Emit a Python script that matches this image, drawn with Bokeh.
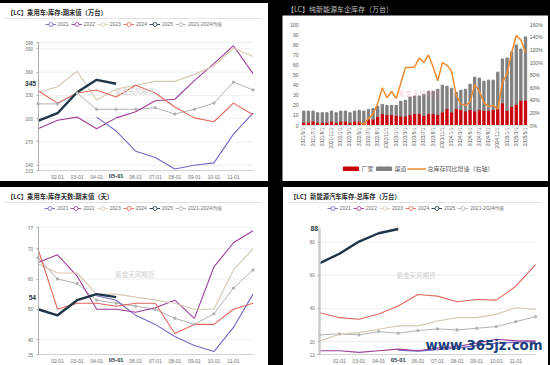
import math
import numpy as np
from bokeh.plotting import figure
from bokeh.models import (Range1d, FixedTicker, LinearAxis, Legend, LegendItem,
                          Label, Div, ColumnDataSource)
from bokeh.layouts import column, row
from bokeh.embed import file_html
from bokeh.resources import INLINE

nan = np.nan

# ---------------- shared categories ----------------
months = [1, 2, 3, 4, 5, 6, 7, 8, 9, 10, 11, 12]
month_labels = ["01-01", "02-01", "03-01", "04-01", "05-01", "06-01",
                "07-01", "08-01", "09-01", "10-01", "11-01", "12-01"]
series_names = ["2021", "2022", "2023", "2024", "2025", "2021-2024均值"]
watermark = "紫金天风期货"

# ---------------- panel 1: 乘用车 库存 期末值 (万台) ----------------
p1_title = "【LC】乘用车:库存:期末值（万台）"
p1_2021 = [nan, nan, nan, 302, 284, 258, 250, 235, 240, 243, 280, 307]
p1_2022 = [287, 298, 302, 287, 301, 309, 323, 325, 349, 371, 394, 358]
p1_2023 = [334, 341, 361, 324, 338, 343, 348, 348, 357, 368, 391, 380]
p1_2024 = [336, 320, 333, 337, 328, 343, 333, 315, 301, 296, 320, 305]
p1_2025 = [297, 307, 334, 350, 345]
p1_avg = [319, 319, 333, 312, 312, 312, 314, 306, 312, 320, 347, 337]
p1_yticks = [233, 240, 270, 300, 330, 360, 390, 398]

# ---------------- panel 3: 乘用车 库存天数 (天) ----------------
p3_title = "【LC】乘用车:库存天数:期末值（天）"
p3_2021 = [nan, nan, nan, 54.5, 53, 48, 45, 41, 38, 36, 44, 55]
p3_2022 = [65.5, 68, 61, 50, 50, 49, 50.5, 53, 47, 64, 72, 76]
p3_2023 = [65, 62, 62, 55, 55, 54, 53, 52, 50, 50, 63, 70]
p3_2024 = [70, 50, 52, 52, 51, 52, 52, 42, 45, 45, 50, 52]
p3_2025 = [50, 48, 53, 55, 54]
p3_avg = [67, 60, 58.5, 53, 52, 51, 50, 47, 45, 48.5, 57, 63]
p3_yticks = [35, 40, 50, 60, 70, 77]

# ---------------- panel 4: 新能源汽车库存-总库存 (万台) ----------------
p4_title = "【LC】新能源汽车库存-总库存（万台）"
p4_2021 = [nan, nan, nan, nan, 14.8, 14.2, 15, 16, 17.5, 19, 19.5, 20]
p4_2022 = [14.4, 14.4, 13.4, 14.4, 15.4, 14.4, 16, 17, 19, 21.4, 20.4, 20.4]
p4_2023 = [20.4, 24.4, 25.4, 27.4, 29.4, 29.4, 32.4, 34.4, 34.4, 36.4, 40.4, 39.4]
p4_2024 = [37.4, 34.4, 33.4, 36.6, 41.4, 48.4, 47.4, 44, 45.4, 45, 53.4, 66.4]
p4_2025 = [67.4, 73, 80.4, 85.4, 88]
p4_avg = [24, 24.6, 24, 26, 25, 26.6, 27.6, 27, 28, 29, 32, 35]
p4_yticks = [12, 20, 40, 60, 80]

# ---------------- panel 2: 纯新能源车企库存 (万台) ----------------
p2_title = "【LC】纯新能源车企库存（万台）"
nev_months = ["2021/5/1", "2021/6/1", "2021/7/1", "2021/8/1", "2021/9/1", "2021/10/1",
              "2021/11/1", "2021/12/1",
              "2022/1/1", "2022/2/1", "2022/3/1", "2022/4/1", "2022/5/1", "2022/6/1",
              "2022/7/1", "2022/8/1", "2022/9/1", "2022/10/1", "2022/11/1", "2022/12/1",
              "2023/1/1", "2023/2/1", "2023/3/1", "2023/4/1", "2023/5/1", "2023/6/1",
              "2023/7/1", "2023/8/1", "2023/9/1", "2023/10/1", "2023/11/1", "2023/12/1",
              "2024/1/1", "2024/2/1", "2024/3/1", "2024/4/1", "2024/5/1", "2024/6/1",
              "2024/7/1", "2024/8/1", "2024/9/1", "2024/10/1", "2024/11/1", "2024/12/1",
              "2025/1/1", "2025/2/1", "2025/3/1", "2025/4/1", "2025/5/1"]
nev_factory = [3.3, 3.3, 4.3, 3, 3, 3, 4.3, 3, 4.3, 4.3,
               3, 4.3, 4.3, 3, 6.3, 6.3, 9, 11.7, 10.7, 10.7,
               10, 9.3, 9.3, 10.7, 11.7, 11.7, 10, 11.7, 11.7, 11,
               13.3, 16.7, 13.3, 16.7, 15.7, 14.3, 15.7, 14.3, 15.7, 15,
               15, 15.7, 16.7, 22.3, 15, 19, 21, 25, 25]
nev_channel = [11.0, 11.0, 10.0, 9.7, 9.7, 9.7, 10.0, 9.7, 10.0, 10.0,
               9.7, 10.0, 10.7, 11.3, 9.7, 10.4, 10.0, 9.3, 9.3, 9.3,
               10.0, 14.7, 15.7, 17.6, 17.6, 17.6, 21.0, 22.3, 22.3, 25.0,
               26.7, 22.3, 23.7, 16.3, 19.3, 21.7, 25.3, 33.7, 31.3, 29.0,
               30.0, 29.3, 36.3, 43.7, 52.0, 54.0, 59.0, 51.0, 63.0]
nev_yoy = [nan, nan, nan, nan, nan, nan, nan, nan, nan, nan, nan, nan,
           5, 2, 11, 18, 35, 60, 44, 54, 43, 67, 92, 92, 93, 107, 100, 112,
           93, 71, 100, 96, 86, 48, 34, 32, 37, 65, 55, 36, 30, 32, 26,
           68, 82, 116, 143, 136, 116]
nev_left_ticks = [0, 10, 20, 30, 40, 50, 60, 70, 80, 90, 100]
nev_right_ticks = [0, 20, 40, 60, 80, 100, 120, 140, 160]
nev_right_labels = ["0%", "20%", "40%", "60%", "80%", "100%", "120%", "140%", "160%"]
nev_legend = ["厂家", "渠道", "总库存同比增速（右轴）"]

# ---------------- styles ----------------
C21, C22, C23, C24, C25, CAVG = "#7467c5", "#9e3f96", "#d9cab5", "#e0675d", "#1f3547", "#b3b3b3"
NUM_FONT = "Liberation Sans"
CJK_FONT = "Noto Sans CJK SC"


def x_range_px(v0, px0, v1, px1, width):
    s = (px1 - px0) / (v1 - v0)
    start = v0 - px0 / s
    return Range1d(start, start + width / s)


def y_range_px(v_top, py_top, v_bot, py_bot, height):
    s = (py_bot - py_top) / (v_top - v_bot)
    end = v_top + py_top / s
    return Range1d(end - height / s, end)


def header(title, width, black_top=0):
    top = f'<div style="height:{black_top}px;background:#000"></div>' if black_top else ''
    html = (top +
            '<div style="height:17px;background:#fff;position:relative;width:%dpx">'
            '<div style="position:absolute;left:5px;top:0px;width:%dpx;height:15.5px;'
            'border-bottom:1px solid #e3e3e3"></div>'
            '<div style="position:absolute;left:7px;top:5px;font-family:\'Noto Sans CJK SC\';'
            'font-weight:bold;font-size:6.3px;line-height:9px;color:#2b2b2b;white-space:nowrap">%s</div>'
            '</div>') % (width, width - 11, title)
    return Div(text=html, width=width, height=17 + black_top, margin=0)


def bare_figure(width, height, xr, yr):
    p = figure(width=width, height=height, x_range=xr, y_range=yr, title=None,
               output_backend="svg", toolbar_location=None,
               min_border_left=0, min_border_right=0, min_border_top=0, min_border_bottom=0)
    p.outline_line_color = None
    p.background_fill_color = "white"
    p.border_fill_color = "white"
    p.xgrid.visible = False
    p.ygrid.visible = False
    return p


def line_panel(title, s21, s22, s23, s24, s25, savg, yticks, px_map, legend_x,
               wm_x, wm_y, width, black_top=0, axis_w=1.0, axis_col="#b0b0b0", extra=None):
    fig_h = 161
    (xv0, xp0, xv1, xp1), (yv0, yp0, yv1, yp1) = px_map
    p = bare_figure(width, fig_h, x_range_px(xv0, xp0, xv1, xp1, width),
                    y_range_px(yv0, yp0, yv1, yp1, fig_h))
    latest = s25[-1]
    ylo, yhi = yticks[0], max(yticks[-1], latest)
    x_first, x_last = months[0], months[-1]

    # horizontal grid lines at the tick values, only across the data region
    n = len(yticks)
    p.segment(x0=[x_first] * n, x1=[x_last] * n, y0=yticks, y1=yticks,
              line_color="#ebebeb", line_width=0.8)

    xa = p.xaxis[0]
    xa.fixed_location = ylo
    xa.bounds = (x_first, x_last)
    xa.ticker = FixedTicker(ticks=months[1:11])
    cur = len(s25)
    xa.major_label_overrides = {m: ("" if m == cur else lab) for m, lab in zip(months, month_labels)}
    xa.major_tick_line_color = None
    xa.major_tick_out = 0
    xa.major_tick_in = 0
    xa.minor_tick_line_color = None
    xa.axis_line_color = "#d4d4d4"
    xa.major_label_text_font_size = "5px"
    xa.major_label_text_font = NUM_FONT
    xa.major_label_text_color = "#707070"
    xa.major_label_standoff = 4

    ya = p.yaxis[0]
    ya.fixed_location = x_first
    ya.bounds = (ylo, yhi)
    ya.ticker = FixedTicker(ticks=yticks)
    ya.major_tick_out = 2
    ya.major_tick_in = 0
    ya.major_tick_line_color = "#b0b0b0"
    ya.minor_tick_line_color = None
    ya.axis_line_color = axis_col
    ya.axis_line_width = axis_w
    ya.major_label_text_font_size = "4.6px"
    ya.major_label_text_font = NUM_FONT
    ya.major_label_text_color = "#707070"
    ya.major_label_standoff = 3

    p.add_layout(Label(x=wm_x, y=wm_y, text=watermark, text_font=CJK_FONT, text_font_size="6.5px",
                       text_color="#d0d0d0", text_align="center", text_baseline="middle"))

    vals = [savg, s21, s22, s23, s24, s25]
    cols = [CAVG, C21, C22, C23, C24, C25]
    widths = [1.0, 1.1, 1.1, 1.2, 1.1, 2.4]
    for v, c, lw in zip(vals, cols, widths):
        k = len(v)
        p.line(months[:k], np.array(v, dtype=float), line_color=c, line_width=lw)
    p.scatter(months, np.array(savg, dtype=float), size=2.4, color=CAVG)

    if extra is not None:
        extra(p)

    # legend-only renderers: a single undrawable point so nothing appears on the plot
    items = []
    order_cols = [C21, C22, C23, C24, C25, CAVG]
    for name, c in zip(series_names, order_cols):
        ghost = ColumnDataSource(dict(x=[x_first], y=[nan]))
        lr = p.line("x", "y", source=ghost, line_color=c, line_width=0.9)
        sr = p.scatter("x", "y", source=ghost, marker="circle", size=4, line_color=c,
                       fill_color="white", line_width=0.8)
        items.append(LegendItem(label=name, renderers=[lr, sr]))
    leg = Legend(items=items, orientation="horizontal", location=(legend_x, fig_h - 3.7 - 5),
                 glyph_width=11, glyph_height=10, label_height=6, label_width=6,
                 label_standoff=2, spacing=2, padding=0, margin=0,
                 border_line_color=None, background_fill_alpha=0,
                 label_text_font=NUM_FONT, label_text_font_size="5px",
                 label_text_color="#707070")
    p.add_layout(leg)

    p.add_layout(Label(x=x_first, y=latest, x_offset=-2, text=f"{latest:g}",
                       text_align="right", text_baseline="middle", text_font=NUM_FONT,
                       text_font_size="6.6px", text_font_style="bold", text_color=C25))
    p.add_layout(Label(x=cur, y=ylo, y_offset=-3.5, text=month_labels[cur - 1],
                       text_align="center", text_baseline="top", text_font=NUM_FONT,
                       text_font_size="5.8px", text_font_style="bold", text_color=C25))

    return column(header(title, width, black_top), p, spacing=0,
                  styles={"background-color": "white"})


def site_mark(p):
    p.add_layout(Label(x=142, y=20, x_units="screen", y_units="screen", text="www.365jz.com",
                       text_font="DejaVu Sans", text_font_size="13.3px", text_font_style="bold",
                       text_color="#1b3f7c", text_align="left", text_baseline="middle"))


panel1 = line_panel(p1_title, p1_2021, p1_2022, p1_2023, p1_2024, p1_2025, p1_avg, p1_yticks,
                    ((1, 37.5, 12, 252.5), (390, 28.3, 240, 144.7)), 44.5,
                    5.95, 336, 268, black_top=3)
panel3 = line_panel(p3_title, p3_2021, p3_2022, p3_2023, p3_2024, p3_2025, p3_avg, p3_yticks,
                    ((1, 37.5, 12, 252.5), (70, 44.3, 40, 135)), 44.3,
                    5.95, 61.8, 268)
panel4 = line_panel(p4_title, p4_2021, p4_2022, p4_2023, p4_2024, p4_2025, p4_avg, p4_yticks,
                    ((1, 36.3, 12, 252), (80, 37.7, 20, 137)), 43.7,
                    5.9, 60, 265, axis_w=2.4, axis_col="#c8c8c8", extra=site_mark)

# ---------------- panel 2 ----------------
idx = list(range(len(nev_months)))
fig2_w, fig2_h = 266, 166
src2 = ColumnDataSource(dict(idx=idx, factory=np.array(nev_factory, dtype=float),
                             channel=np.array(nev_channel, dtype=float),
                             yoy=np.array(nev_yoy, dtype=float)))
left_lo, left_hi = nev_left_ticks[0], nev_left_ticks[-1]
p2 = bare_figure(fig2_w, fig2_h, x_range_px(0, 21.3, idx[-1], 243, fig2_w),
                 y_range_px(left_hi, 9.3, left_lo, 110, fig2_h))
pr = y_range_px(nev_right_ticks[-1], 9.3, nev_right_ticks[0], 110, fig2_h)
p2.extra_y_ranges = {"pct": pr}

p2.add_layout(Label(x=25, y=32, text=watermark, text_font=CJK_FONT, text_font_size="7px",
                    text_color="#e39a9a", text_alpha=0.4, text_align="center",
                    text_baseline="middle"))

bars = p2.vbar_stack(["factory", "channel"], x="idx", width=0.5, source=src2,
                     color=["#c8000a", "#808080"])
yl = p2.line("idx", "yoy", source=src2, y_range_name="pct", line_color="#f28a30", line_width=1.5)

x_lo_edge, x_hi_edge = idx[0] - 0.5, idx[-1] + 0.5
xa2 = p2.xaxis[0]
xa2.fixed_location = left_lo
xa2.bounds = (x_lo_edge, x_hi_edge)
xa2.ticker = FixedTicker(ticks=idx[::2])
xa2.major_label_overrides = {i: nev_months[i] for i in idx[::2]}
xa2.major_label_orientation = math.pi / 2
xa2.major_label_text_font_size = "4.8px"
xa2.major_label_text_font = NUM_FONT
xa2.major_label_text_color = "#595959"
xa2.major_tick_line_color = None
xa2.major_tick_out = 0
xa2.major_tick_in = 0
xa2.minor_tick_line_color = None
xa2.axis_line_color = "#d9d9d9"
xa2.major_label_standoff = 2

ya2 = p2.yaxis[0]
ya2.fixed_location = x_lo_edge
ya2.bounds = (left_lo, left_hi)
ya2.ticker = FixedTicker(ticks=nev_left_ticks)
ya2.axis_line_color = None
ya2.major_tick_line_color = None
ya2.major_tick_out = 0
ya2.minor_tick_line_color = None
ya2.major_label_text_font_size = "5px"
ya2.major_label_text_font = NUM_FONT
ya2.major_label_text_color = "#595959"
ya2.major_label_standoff = 3

ra = LinearAxis(y_range_name="pct", ticker=FixedTicker(ticks=nev_right_ticks),
                major_label_overrides=dict(zip(nev_right_ticks, nev_right_labels)))
ra.fixed_location = x_hi_edge
ra.bounds = (nev_right_ticks[0], nev_right_ticks[-1])
ra.axis_line_color = None
ra.major_tick_line_color = None
ra.major_tick_out = 0
ra.minor_tick_line_color = None
ra.major_label_text_font_size = "5px"
ra.major_label_text_font = NUM_FONT
ra.major_label_text_color = "#595959"
ra.major_label_standoff = 2
p2.add_layout(ra, "right")

leg2 = Legend(items=[LegendItem(label=nev_legend[0], renderers=[bars[0]]),
                     LegendItem(label=nev_legend[1], renderers=[bars[1]]),
                     LegendItem(label=nev_legend[2], renderers=[yl])],
              orientation="horizontal", location=(58.5, 8.5),
              glyph_width=19, glyph_height=5, label_height=6, label_width=6,
              label_standoff=2, spacing=0, padding=0, margin=0,
              border_line_color=None, background_fill_alpha=0,
              label_text_font=CJK_FONT, label_text_font_size="6px",
              label_text_color="#595959")
p2.add_layout(leg2)

head2 = Div(text=('<div style="height:15px;line-height:15px;padding-left:5px;background:#000;'
                  'color:#bfbfbf;font-family:\'Noto Sans CJK SC\';font-size:7px;white-space:nowrap">'
                  '%s</div>') % p2_title, width=fig2_w, height=15, margin=0)
panel2 = column(head2, p2, spacing=0, styles={"background-color": "black"})

top = row(panel1, panel2, spacing=14)
bottom = row(panel3, panel4, spacing=15)
root = column(top, bottom, spacing=6, width=550, height=365,
              styles={"background-color": "black"})

open("out.html", "w").write(file_html(root, INLINE))
